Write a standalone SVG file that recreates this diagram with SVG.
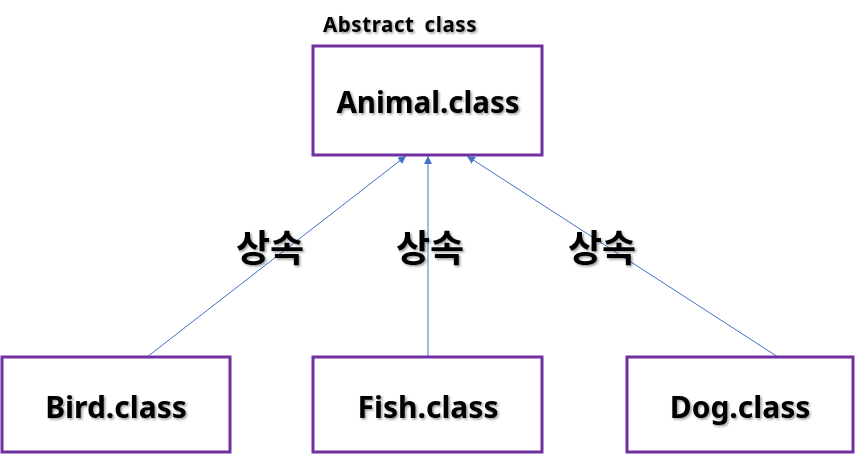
<svg xmlns="http://www.w3.org/2000/svg" width="856" height="454" viewBox="0 0 856 454">
<style>
.box{fill:#fff;stroke:#7030a0;stroke-width:3}
.t{font-family:"Noto Sans","Liberation Sans",sans-serif;font-weight:bold;fill:#000;text-anchor:middle;filter:url(#sh)}
.k{font-family:"Noto Sans CJK KR","Noto Sans",sans-serif;font-weight:bold;fill:#000;text-anchor:middle;filter:url(#sh)}
.c{stroke:#4472c4;stroke-width:1;fill:none;marker-end:url(#ah)}
</style>
<defs>
<filter id="sh" x="-10%" y="-20%" width="130%" height="150%">
<feDropShadow dx="1.5" dy="1.5" stdDeviation="1" flood-color="#000" flood-opacity="0.4"/>
</filter>
<marker id="ah" viewBox="0 0 10 10" refX="10" refY="5" markerWidth="8" markerHeight="8" orient="auto" markerUnits="userSpaceOnUse">
<path d="M0,0 L10,5 L0,10 z" fill="#4472c4"/>
</marker>
</defs>
<text class="t" x="400" y="32" font-size="20.5" letter-spacing="0.6" word-spacing="4">Abstract class</text>
<g id="connectors">
<line class="c" x1="147" y1="357" x2="406" y2="156"/>
<line class="c" x1="428" y1="357" x2="428" y2="156"/>
<line class="c" x1="778" y1="357" x2="467" y2="156"/>
</g>
<g id="animal">
<rect class="box" x="313" y="46" width="229" height="109"/>
<text class="t" x="428" y="113" font-size="29.5">Animal.class</text>
</g>
<g id="labels">
<text class="k" x="270" y="262" font-size="37">상속</text>
<text class="k" x="430" y="262" font-size="37">상속</text>
<text class="k" x="602" y="262" font-size="37">상속</text>
</g>
<g id="bird">
<rect class="box" x="2" y="357" width="228" height="95"/>
<text class="t" x="116" y="418" font-size="30">Bird.class</text>
</g>
<g id="fish">
<rect class="box" x="313" y="357" width="229" height="95"/>
<text class="t" x="428" y="418" font-size="30">Fish.class</text>
</g>
<g id="dog">
<rect class="box" x="627" y="357" width="226" height="95"/>
<text class="t" x="740" y="418" font-size="30">Dog.class</text>
</g>
</svg>
